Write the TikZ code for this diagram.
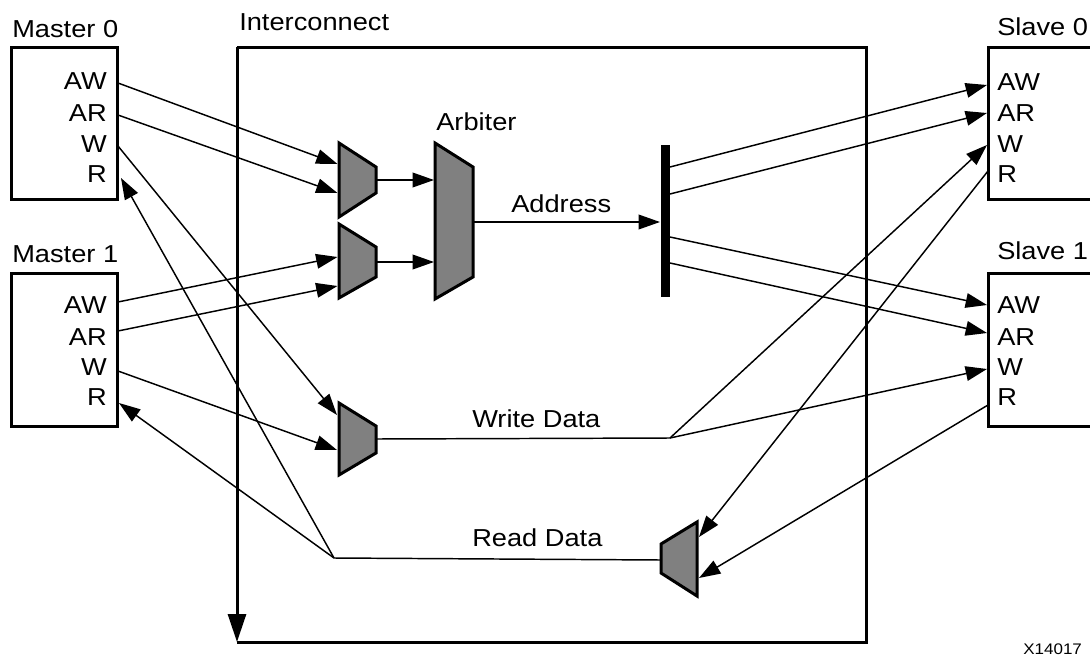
\documentclass[tikz,border=0pt]{standalone}
\usepackage{fontspec}
\setmainfont{Liberation Sans}[FakeStretch=1.11]
\usetikzlibrary{arrows.meta}
\definecolor{muxgray}{HTML}{808080}
\tikzset{
  blk/.style={draw, line width=2.25pt, line join=miter},
  sig/.style={line width=1.1pt, -{Triangle[length=16pt,width=11pt]}},
  wire/.style={line width=1.1pt},
  bigarrow/.style={line width=2.25pt, -{Triangle[length=21pt,width=13.5pt]}},
  muxs/.style={draw, line width=2.25pt, fill=muxgray, line join=miter},
  lbl/.style={font=\fontsize{18.4}{20}\selectfont, inner sep=0pt, anchor=base west},
  lport/.style={font=\fontsize{18.4}{20}\selectfont, inner sep=0pt, anchor=base east},
  rport/.style={font=\fontsize{18.4}{20}\selectfont, inner sep=0pt, anchor=base west},
  tag/.style={font=\fontsize{11.5}{13}\selectfont, inner sep=0pt, anchor=base west}
}
\begin{document}
\begin{tikzpicture}[x=0.75pt,y=-0.75pt]
\useasboundingbox (0,0) rectangle (1090,657);

% ---- titles
\node[lbl] (tm0) at (12,37) {Master 0};
\node[lbl] (tm1) at (12,262) {Master 1};
\node[lbl] (tic) at (239,30) {Interconnect};
\node[lbl] (ts0) at (997,35) {Slave 0};
\node[lbl] (ts1) at (997,259) {Slave 1};
\node[lbl] (tarb) at (436,130) {Arbiter};
\node[lbl] (tadr) at (511,212) {Address};
\node[lbl] (twd) at (472,427) {Write Data};
\node[lbl] (trd) at (472,546) {Read Data};
\node[tag] (tx) at (1023,654) {X14017};

% ---- master boxes
\draw[blk] (11,47) rectangle (117,199);
\draw[blk] (11,273) rectangle (117,426);
\node[lport] (m0aw) at (107,89) {AW};
\node[lport] (m0ar) at (107,121) {AR};
\node[lport] (m0w) at (107,152) {W};
\node[lport] (m0r) at (107,182) {R};
\node[lport] (m1aw) at (107,313) {AW};
\node[lport] (m1ar) at (107,345) {AR};
\node[lport] (m1w) at (107,375) {W};
\node[lport] (m1r) at (107,405) {R};

% ---- slave boxes
\draw[blk] (1096,47) -- (988,47) -- (988,199) -- (1096,199);
\draw[blk] (1096,273) -- (988,273) -- (988,426) -- (1096,426);
\node[rport] (s0aw) at (997,90) {AW};
\node[rport] (s0ar) at (997,121) {AR};
\node[rport] (s0w) at (997,152) {W};
\node[rport] (s0r) at (997,182) {R};
\node[rport] (s1aw) at (997,313) {AW};
\node[rport] (s1ar) at (997,345) {AR};
\node[rport] (s1w) at (997,375) {W};
\node[rport] (s1r) at (997,405) {R};

% ---- interconnect frame
\draw[blk] (237,47) -- (866,47) -- (866,642) -- (237,642);
\coordinate (ictop) at (237,47);
\coordinate (icbot) at (237,642);
\draw[bigarrow] (ictop) -- (icbot);

% ---- muxes
\draw[muxs] (339,143) -- (376,167) -- (376,193) -- (339,217) -- cycle;
\draw[muxs] (339,224) -- (376,247) -- (376,277) -- (339,298) -- cycle;
\draw[muxs] (435,143) -- (473,167) -- (473,277) -- (435,299) -- cycle;
\draw[muxs] (339,403) -- (376,426) -- (376,453) -- (339,475) -- cycle;
\draw[muxs] (697,522) -- (697,596) -- (661,573) -- (661,544) -- cycle;
\fill (661,145) rectangle (670,297);

% ---- port coordinates
\coordinate (pm0aw) at (118,83);
\coordinate (pm0ar) at (118,115);
\coordinate (pm0w) at (118,146);
\coordinate (pm0r) at (121,178);
\coordinate (pm1aw) at (118,302);
\coordinate (pm1ar) at (118,331);
\coordinate (pm1w) at (118,371);
\coordinate (pm1r) at (119,403);

\coordinate (ps0aw) at (987,85);
\coordinate (ps0ar) at (987,113);
\coordinate (ps0w) at (987,145);
\coordinate (ps0r) at (988,171);
\coordinate (ps1aw) at (987,305);
\coordinate (ps1ar) at (987,333);
\coordinate (ps1w) at (987,369);
\coordinate (ps1r) at (988,405);

\coordinate (mux1a) at (337.5,164);
\coordinate (mux1b) at (337.5,193);
\coordinate (mux1o) at (376,180);
\coordinate (mux2a) at (337.5,257);
\coordinate (mux2b) at (337.5,286);
\coordinate (mux2o) at (376,262);
\coordinate (arba) at (434,180);
\coordinate (arbb) at (434,262);
\coordinate (arbo) at (473,222);
\coordinate (bari) at (660,222);
\coordinate (bar1) at (670,167);
\coordinate (bar2) at (670,194);
\coordinate (bar3) at (670,237);
\coordinate (bar4) at (670,263);
\coordinate (wmuxa) at (337,415);
\coordinate (wmuxb) at (337,450);
\coordinate (wmuxo) at (376,439);
\coordinate (wjct) at (670,438);
\coordinate (rmuxa) at (699,537);
\coordinate (rmuxb) at (699,578);
\coordinate (rmuxo) at (661,560);
\coordinate (rjct) at (334,558);

% ---- address path
\draw[sig] (pm0aw) -- (mux1a);
\draw[sig] (pm0ar) -- (mux1b);
\draw[sig] (pm1aw) -- (mux2a);
\draw[sig] (pm1ar) -- (mux2b);
\draw[sig] (mux1o) -- (arba);
\draw[sig] (mux2o) -- (arbb);
\draw[sig] (arbo) -- (bari);
\draw[sig] (bar1) -- (ps0aw);
\draw[sig] (bar2) -- (ps0ar);
\draw[sig] (bar3) -- (ps1aw);
\draw[sig] (bar4) -- (ps1ar);

% ---- write path
\draw[sig] (pm0w) -- (wmuxa);
\draw[sig] (pm1w) -- (wmuxb);
\draw[wire] (wmuxo) -- (wjct);
\draw[sig] (wjct) -- (ps0w);
\draw[sig] (wjct) -- (ps1w);

% ---- read path
\draw[sig] (ps0r) -- (rmuxa);
\draw[sig] (ps1r) -- (rmuxb);
\draw[wire] (rmuxo) -- (rjct);
\draw[sig] (rjct) -- (pm0r);
\draw[sig] (rjct) -- (pm1r);
\end{tikzpicture}
\end{document}
